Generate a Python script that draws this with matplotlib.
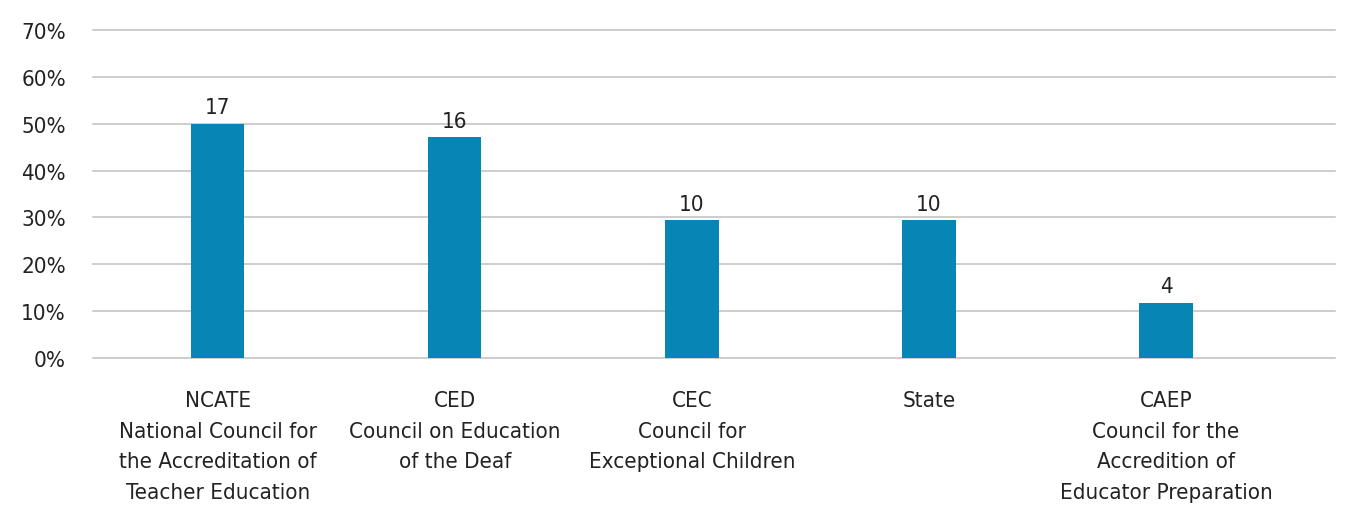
import matplotlib
matplotlib.use('Agg')
import matplotlib.pyplot as plt
from matplotlib.ticker import PercentFormatter

# --- DATA ---
categories = [
    "NCATE\nNational Council for\nthe Accreditation of\nTeacher Education",
    "CED\nCouncil on Education\nof the Deaf",
    "CEC\nCouncil for\nExceptional Children",
    "State",
    "CAEP\nCouncil for the\nAccredition of\nEducator Preparation",
]
counts = [17, 16, 10, 10, 4]
total = 34
shares = [c / total * 100 for c in counts]
y_ticks = [0, 10, 20, 30, 40, 50, 60, 70]

plt.rcParams['font.family'] = ['DejaVu Sans']
plt.rcParams['font.stretch'] = 'condensed'

fig = plt.figure(figsize=(13.49, 5.06), dpi=100)
ax = fig.add_axes([93 / 1349, 1 - 359 / 506, (1335 - 93) / 1349, (359 - 31) / 506])

x = list(range(len(categories)))
bars = ax.bar(x, shares, width=0.224, color='#0785b4', zorder=3)

for xi, s, c in zip(x, shares, counts):
    ax.text(xi, s + 1.4, str(c), ha='center', va='bottom', fontsize=16, color='#222222')

ax.set_xlim(-0.527, 4.713)
ax.set_ylim(0, 70)
ax.set_yticks(y_ticks)
ax.yaxis.set_major_formatter(PercentFormatter(decimals=0))
ax.grid(axis='y', color='#c0c0c0', lw=1.1, zorder=0)
for gl in ax.get_ygridlines():
    gl.set_clip_on(False)
for sp in ax.spines.values():
    sp.set_visible(False)
ax.tick_params(axis='both', length=0, labelsize=16, colors='#222222')
ax.tick_params(axis='y', pad=19.5)
ax.set_xticks(x)
ax.set_xticklabels(categories, linespacing=1.66)
ax.tick_params(axis='x', pad=23)

fig.savefig('out.png', dpi=100)
